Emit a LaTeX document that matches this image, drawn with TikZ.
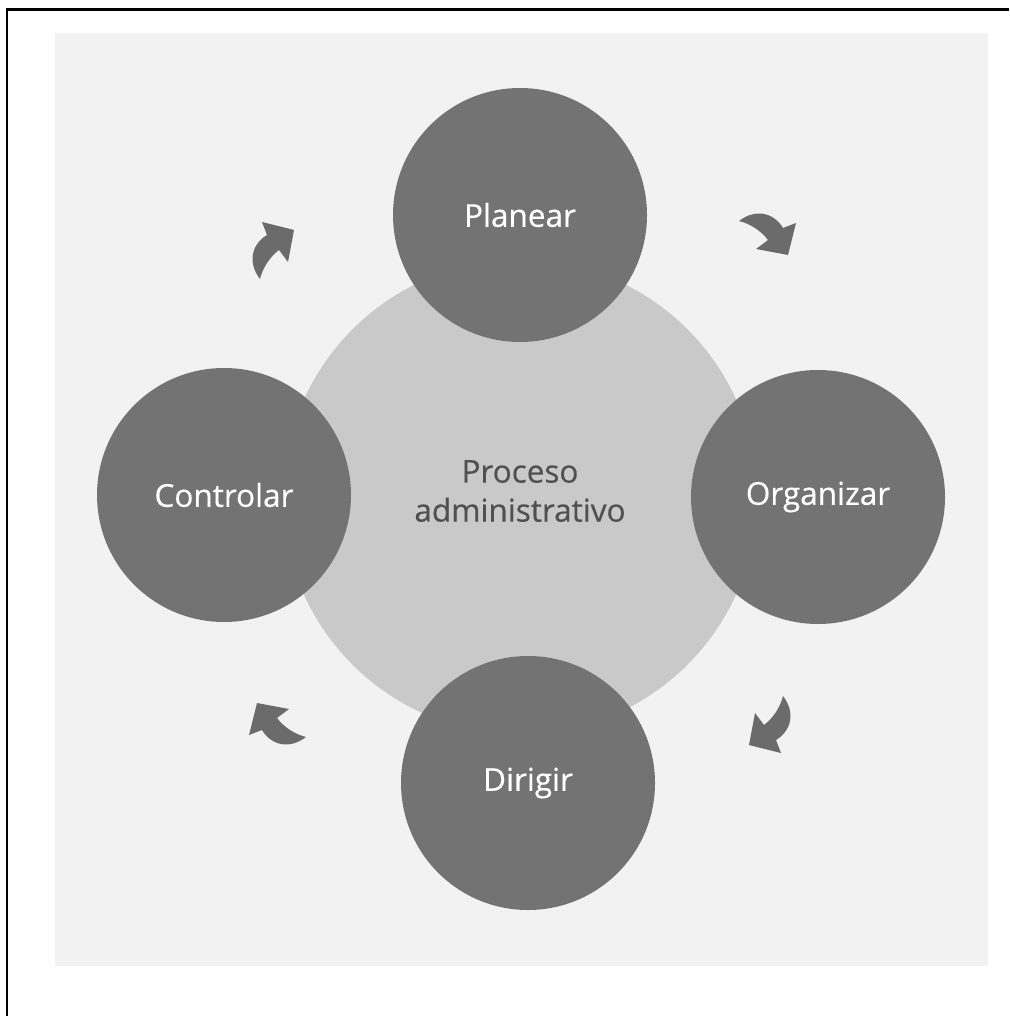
\documentclass[tikz,border=0pt]{standalone}
\usepackage{fontspec}
\setmainfont{Open Sans}[FakeBold=0.4]
\begin{document}
\begin{tikzpicture}[x=1pt,y=-1pt,
  step circle/.style={circle,fill=stepgray,minimum size=254pt,inner sep=0pt,
    text=white,font=\fontsize{31.5}{36}\selectfont},
  core circle/.style={circle,fill=coregray,minimum size=474pt,inner sep=0pt},
  core text/.style={align=center,text=coretext,font=\fontsize{31.5}{39}\selectfont},
  turn arrow/.style={fill=arrowgray}]
\definecolor{stepgray}{HTML}{737373}
\definecolor{coregray}{HTML}{C9C9C9}
\definecolor{coretext}{HTML}{505050}
\definecolor{arrowgray}{HTML}{6B6B6B}
\definecolor{panelgray}{HTML}{F2F2F2}
\useasboundingbox (0,0) rectangle (1009,1016);
\fill[white] (0,0) rectangle (1009,1016);
% frame lines
\draw[line width=2.2pt] (7,1016) -- (7,9.5) -- (1009,9.5);
% light panel
\fill[panelgray] (55,33) rectangle (988,966);
% central circle
\node[core circle] (core) at (520,497) {};
\node[core text] (coretxt) at (520,491) {Proceso\\administrativo};
% the four stages
\node[step circle] (plan) at (520,215) {Planear};
\node[step circle] (org) at (818,497) {Organizar};
\node[step circle] (dir) at (528,783) {Dirigir};
\node[step circle] (ctrl) at (224,495) {Controlar};
% curved arrows, clockwise: position and turn of each
\foreach \cx/\cy/\ang in {769/234/0, 770/726/-90, 276/724/-180, 273/249/-270}{
  \begin{scope}[shift={(\cx,\cy)},rotate=\ang]
    \fill[turn arrow] (-30,-13) .. controls (-13,-26) and (5,-21) .. (14,-6)
      -- (27,-11) -- (19,21) -- (-13,15) -- (-1,6)
      .. controls (-8,-3) and (-18,-10) .. cycle;
  \end{scope}
}
\end{tikzpicture}
\end{document}
